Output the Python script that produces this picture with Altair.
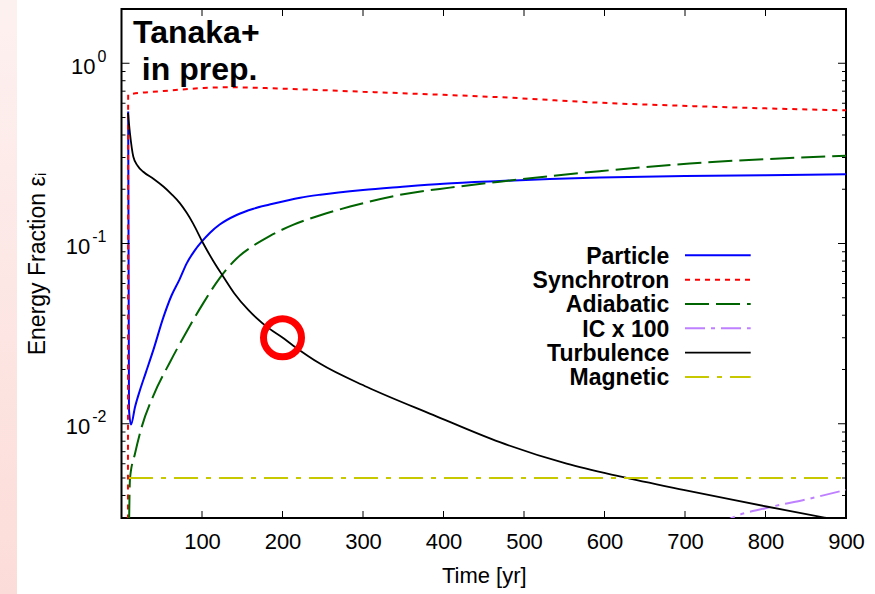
import altair as alt
import pandas as pd

# ---------------- data ----------------
particle_t = [8.3, 9.3, 11.8, 16.8, 23, 30, 39.5, 52, 62, 72, 81, 90, 99.6, 110, 122, 143, 164, 184, 222, 247, 300, 346, 400, 470, 532, 594, 700, 800, 900]
particle_v = [0.54, 0.012, 0.0099, 0.0124, 0.0154, 0.0191, 0.0256, 0.0389, 0.0513, 0.0631, 0.0776, 0.0902, 0.1023, 0.1148, 0.1274, 0.1439, 0.156, 0.1644, 0.1795, 0.1866, 0.1982, 0.2061, 0.2148, 0.2223, 0.228, 0.2323, 0.2366, 0.2393, 0.2421]

synch_t = [8.0, 8.3, 10.5, 50, 100, 131, 180, 222, 300, 400, 470, 594, 706, 800, 900]
synch_v = [0.002, 0.67, 0.673, 0.70, 0.728, 0.736, 0.728, 0.717, 0.695, 0.668, 0.648, 0.604, 0.579, 0.562, 0.548]

adiab_t = [9.0, 10.6, 16.8, 25, 39.5, 60, 81, 101.6, 122, 143, 164, 184.5, 213, 247, 284, 346, 408, 470, 532, 594, 706, 800, 900]
adiab_v = [0.002, 0.005, 0.00684, 0.00957, 0.01429, 0.02188, 0.0325, 0.0467, 0.0643, 0.0826, 0.0973, 0.1104, 0.1268, 0.1436, 0.1603, 0.1862, 0.2042, 0.2203, 0.2366, 0.2518, 0.278, 0.2938, 0.3069]

ic_t = [740, 758, 800, 850, 900]
ic_v = [0.0027, 0.003, 0.0034, 0.0038, 0.0043]

turb_t = [8.1, 10.5, 14.7, 20, 27, 40, 52, 62, 72.7, 81, 89, 101.6, 114, 126.5, 140, 157.5, 184.5, 199, 213, 247, 305, 387, 470, 553, 619, 698, 760, 801, 876, 900]
turb_v = [0.53, 0.41, 0.303, 0.27, 0.250, 0.228, 0.207, 0.188, 0.167, 0.148, 0.129, 0.100, 0.080, 0.0654, 0.053, 0.0428, 0.0335, 0.0303, 0.0272, 0.0215, 0.0160, 0.0112, 0.0079, 0.0060, 0.0051, 0.004295, 0.003776, 0.003475, 0.0030, 0.002864]

magn_t = [9.3, 900]
magn_v = [0.005, 0.005]

series_names = ["Particle", "Synchrotron", "Adiabatic", "IC x 100", "Turbulence", "Magnetic"]
series_colors = ["#0000ff", "#ff0000", "#006400", "#bf80ff", "#000000", "#c8c800"]
series_dash = [None, [5, 5], [24, 7], [20, 6, 4, 6], None, [24, 8, 5, 8]]
series_width = [2, 2, 2, 2, 1.8, 2]
series_data = [(particle_t, particle_v), (synch_t, synch_v), (adiab_t, adiab_v),
               (ic_t, ic_v), (turb_t, turb_v), (magn_t, magn_v)]

xlabel_vals = [100, 200, 300, 400, 500, 600, 700, 800, 900]
xtick_major = [0, 100, 200, 300, 400, 500, 600, 700, 800, 900]
ytick_vals = [0.01, 0.1, 1]
ytick_base = ["10", "10", "10"]
ytick_exp = ["-2", "-1", "0"]
ytick_minor = [0.003, 0.004, 0.005, 0.006, 0.007, 0.008, 0.009,
               0.02, 0.03, 0.04, 0.05, 0.06, 0.07, 0.08, 0.09,
               0.2, 0.3, 0.4, 0.5, 0.6, 0.7, 0.8, 0.9, 2]

circle_t = [200]
circle_v = [0.03]

# ---------------- layout ----------------
W, H = 724.5, 509
FONT = "Liberation Sans"

xscale = alt.Scale(domain=[0, 900], nice=False, zero=False)
yscale = alt.Scale(type="log", domain=[0.003, 2], nice=False)

xaxis = alt.Axis(values=xlabel_vals, ticks=False, domain=False, grid=False,
                 labelFont=FONT, labelFontSize=22, labelColor="black", labelPadding=13,
                 labelFlush=False, labelOverlap=False,
                 title="Time [yr]", titleFont=FONT, titleFontSize=22, titleFontWeight="normal",
                 titleColor="black", titleY=64, titleBaseline="alphabetic")
yaxis = alt.Axis(values=ytick_vals, labels=False, ticks=False, domain=False, grid=False,
                 title="Energy Fraction εᵢ", titleFont=FONT, titleFontSize=23,
                 titleFontWeight="normal", titleColor="black", titleX=-84, titleBaseline="middle")


def X(field="t"):
    return alt.X(f"{field}:Q", scale=xscale, axis=xaxis)


def Y(field="v"):
    return alt.Y(f"{field}:Q", scale=yscale, axis=yaxis)


one = pd.DataFrame({"a": [0]})

layers = []

# series lines
for (t, v), name, col, dash, w in zip(series_data, series_names, series_colors, series_dash, series_width):
    df = pd.DataFrame({"t": t, "v": v})
    kw = dict(color=col, strokeWidth=w, clip=True, interpolate="monotone")
    if dash:
        kw["strokeDash"] = dash
    layers.append(alt.Chart(df).mark_line(**kw).encode(x=X(), y=Y(), order="t:Q"))

# inward ticks (gnuplot style, mirrored)
xt = pd.DataFrame({"t": xtick_major})
for y0, y1 in [(H, H - 7), (0, 7)]:
    layers.append(alt.Chart(xt).mark_rule(color="black", strokeWidth=1).encode(
        x=X(), y=alt.value(y0), y2=alt.value(y1)))
yt = pd.DataFrame({"v": ytick_vals})
ytm = pd.DataFrame({"v": ytick_minor})
for df, ln in [(yt, 8), (ytm, 4)]:
    for x0, x1 in [(0, ln), (W, W - ln)]:
        layers.append(alt.Chart(df).mark_rule(color="black", strokeWidth=1).encode(
            y=Y(), x=alt.value(x0), x2=alt.value(x1)))

# y tick labels as 10^n with raised exponent
EXP_SIZE, BASE_SIZE = 16, 22
for val, base, ex in zip(ytick_vals, ytick_base, ytick_exp):
    d = pd.DataFrame({"v": [val]})
    ex_w = 0.556 * EXP_SIZE * sum(1 for c in ex if c.isdigit()) + 0.333 * EXP_SIZE * ex.count("-")
    layers.append(alt.Chart(d).mark_text(text=ex, align="right", baseline="alphabetic",
                                         font=FONT, fontSize=EXP_SIZE, color="black", dy=-1.5).encode(
        y=Y(), x=alt.value(-15)))
    layers.append(alt.Chart(d).mark_text(text=base, align="right", baseline="alphabetic",
                                         font=FONT, fontSize=BASE_SIZE, color="black", dy=10.5).encode(
        y=Y(), x=alt.value(-15 - ex_w - 2)))

# red highlight circle
cdf = pd.DataFrame({"t": circle_t, "v": circle_v})
layers.append(alt.Chart(cdf).mark_point(shape="circle", size=1444, filled=False,
                                         color="#ff0000", strokeWidth=7, opacity=1).encode(
    x=X(), y=Y()))

# key (gnuplot style: label left, sample right)
row0, drow = 255.3 - 9, 24.35
for i, (name, col, dash, w) in enumerate(zip(series_names, series_colors, series_dash, series_width)):
    yy = row0 + i * drow
    layers.append(alt.Chart(one).mark_text(text=name, align="right", baseline="alphabetic",
                                           font=FONT, fontSize=23, fontWeight="bold",
                                           color="black").encode(
        x=alt.value(547.8), y=alt.value(yy + 8.3)))
    kw = dict(color=col, strokeWidth=w)
    if dash:
        kw["strokeDash"] = dash
    layers.append(alt.Chart(one).mark_rule(**kw).encode(
        x=alt.value(563.5), x2=alt.value(629.2), y=alt.value(yy)))

# annotation text
layers.append(alt.Chart(one).mark_text(text="Tanaka+", align="left", baseline="alphabetic",
                                       font=FONT, fontSize=32, fontWeight="bold",
                                       color="black").encode(x=alt.value(11.5), y=alt.value(33.7)))
layers.append(alt.Chart(one).mark_text(text="in prep.", align="left", baseline="alphabetic",
                                       font=FONT, fontSize=32, fontWeight="bold",
                                       color="black").encode(x=alt.value(20.3), y=alt.value(71)))

# pink strip at the left edge of the slide
strip = alt.Chart(one).mark_rect(
    clip=False,
    color=alt.Gradient(gradient="linear",
                       stops=[alt.GradientStop(color="#fdf1f0", offset=0),
                              alt.GradientStop(color="#fcdcd8", offset=1)],
                       x1=0, x2=0, y1=0, y2=1)
).encode(x=alt.value(-121.5), x2=alt.value(-104.5), y=alt.value(-9), y2=alt.value(585))
layers.append(strip)

chart = alt.layer(*layers).properties(
    width=W, height=H,
    padding={"left": 121.5, "top": 9, "right": 29, "bottom": 76},
    autosize=alt.AutoSizeParams(type="none"),
    background="white",
).configure_view(stroke="black", strokeWidth=2)

chart.save("out.html", embed_options={"renderer": "svg", "actions": False})
